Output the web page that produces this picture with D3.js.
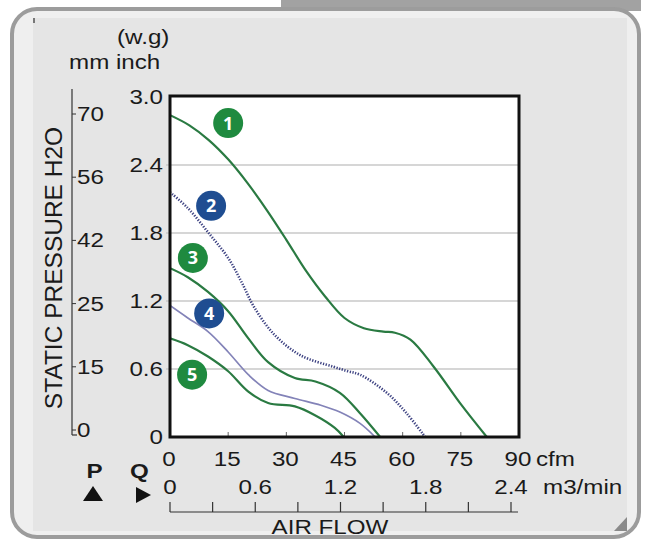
<!DOCTYPE html>
<html><head><meta charset="utf-8">
<script src="https://cdn.jsdelivr.net/npm/d3@7"></script>
<style>
html,body{margin:0;padding:0;background:#fff;}
svg{display:block;}
</style>
</head><body>
<svg id="c" width="647" height="541"></svg>
<script>
// ---- data ----
const cfmTicks = [0, 15, 30, 45, 60, 75, 90];
const m3Ticks = [0, 0.6, 1.2, 1.8, 2.4];
const m3MinorTicks = [0, 0.3, 0.6, 0.9, 1.2, 1.5, 1.8, 2.1, 2.4];
const inchTicks = [0, 0.6, 1.2, 1.8, 2.4, 3.0];
const mmTicks = [70, 56, 42, 25, 15, 0];
const curveIds = ["1", "2", "3", "4", "5"];
const curve1 = [[0,2.84],[5,2.75],[10,2.62],[15,2.45],[20,2.24],[25,2.00],[30,1.74],[35,1.47],[40,1.24],[45,1.05],[50,0.96],[55,0.93],[58,0.92],[62,0.86],[68,0.62],[75,0.29],[81.7,0]];
const curve2 = [[0,2.16],[4.6,2.02],[10.2,1.79],[15,1.58],[18.4,1.37],[21.8,1.14],[27,0.90],[33.7,0.72],[42.1,0.62],[45.9,0.58],[49,0.55],[55.9,0.39],[61,0.21],[65.8,0]];
const curve3 = [[0,1.49],[4.6,1.41],[9.8,1.28],[15,1.11],[20.2,0.87],[25.3,0.66],[32.2,0.52],[37.5,0.49],[43.8,0.39],[49,0.21],[54.2,0]];
const curve4 = [[0,1.16],[4.6,1.05],[9.8,0.93],[15,0.75],[20.2,0.55],[25.3,0.41],[32.2,0.34],[38.9,0.28],[43.8,0.22],[49,0.12],[52.9,0]];
const curve5 = [[0,0.87],[4.6,0.81],[9.8,0.71],[15,0.58],[20.2,0.40],[25.3,0.30],[32.2,0.27],[37.5,0.19],[42.5,0.08],[44.8,0]];
const badgeAt = [[15.0,2.77],[10.6,2.04],[5.9,1.58],[10.1,1.09],[5.7,0.55]];
const curveKinds = ["green","dotted","green","thin","green"];

// ---- setup ----
const svg = d3.select("#c");
const FONT = "'Liberation Sans', Arial, sans-serif";
const SX = 1.24, FS = 19.5, TXT = "#1a1a1a";
function htext(x, y, s, anchor, opts) {
  opts = opts || {};
  return svg.append("text")
    .attr("transform", `translate(${x},${y}) scale(${opts.sx || SX},1)`)
    .attr("text-anchor", anchor || "start")
    .attr("font-family", FONT)
    .attr("font-size", opts.fs || FS)
    .attr("font-weight", opts.bold ? "bold" : "normal")
    .attr("fill", TXT)
    .text(s);
}

// frame
svg.append("rect").attr("x", 281).attr("y", 0).attr("width", 360).attr("height", 11).attr("fill", "#a2a2a2");
svg.append("rect").attr("x", 12).attr("y", 9).attr("width", 627).attr("height", 528).attr("rx", 25)
  .attr("fill", "#efefef").attr("stroke", "#9c9c9c").attr("stroke-width", 4);
svg.append("rect").attr("x", 33).attr("y", 18).attr("width", 594).attr("height", 513).attr("fill", "#e5e5e5");
svg.append("path").attr("d", "M627,517 L627,531 L614,531 Z").attr("fill", "#8a8a8a");
svg.append("rect").attr("x", 33).attr("y", 18).attr("width", 2).attr("height", 5).attr("fill", "#777");

// scales
const x = d3.scaleLinear().domain([0, 90]).range([170, 519]);
const y = d3.scaleLinear().domain([0, 3]).range([437, 97]);
const xm = d3.scaleLinear().domain([0, 2.4]).range([170, 511]);
const ymm = d3.scalePoint().domain(mmTicks).range([114, 430]);

// plot area
svg.append("rect").attr("x", x(0)).attr("y", y(3)).attr("width", x(90) - x(0)).attr("height", y(0) - y(3)).attr("fill", "#fff");
svg.append("g").selectAll("line").data(inchTicks.filter(d => d > 0 && d < 3)).join("line")
  .attr("x1", x(0) - 4).attr("x2", x(90)).attr("y1", d => y(d)).attr("y2", d => y(d))
  .attr("stroke", "#c9c9c9").attr("stroke-width", 1.6);
svg.append("g").selectAll("line").data(cfmTicks.filter(d => d > 0 && d < 90)).join("line")
  .attr("x1", d => x(d)).attr("x2", d => x(d)).attr("y1", y(0)).attr("y2", y(0) - 5)
  .attr("stroke", "#666").attr("stroke-width", 1);

// clip
svg.append("clipPath").attr("id", "clip").append("rect")
  .attr("x", x(0)).attr("y", y(3)).attr("width", x(90) - x(0)).attr("height", y(0) - y(3));

const line = d3.line().x(d => x(d[0])).y(d => y(d[1])).curve(d3.curveCatmullRom.alpha(0.5));
const curves = [curve1, curve2, curve3, curve4, curve5];
const gC = svg.append("g").attr("clip-path", "url(#clip)");
curves.forEach((c, i) => {
  const k = curveKinds[i];
  const p = gC.append("path").attr("d", line(c)).attr("fill", "none");
  if (k === "green") p.attr("stroke", "#2a7a42").attr("stroke-width", 2.2);
  else if (k === "dotted") p.attr("stroke", "#3d4282").attr("stroke-width", 2.6).attr("stroke-dasharray", "1.3 1.5");
  else p.attr("stroke", "#8383b8").attr("stroke-width", 1.7);
});

// box border
svg.append("rect").attr("x", x(0)).attr("y", y(3) - 1).attr("width", x(90) - x(0)).attr("height", y(0) - y(3) + 1)
  .attr("fill", "none").attr("stroke", "#111").attr("stroke-width", 3);

// badges
const gB = svg.append("g");
badgeAt.forEach((b, i) => {
  const col = curveKinds[i] === "green" ? "#1f8a3f" : "#1f4d91";
  gB.append("circle").attr("cx", x(b[0])).attr("cy", y(b[1])).attr("r", 15).attr("fill", col);
  gB.append("text").attr("x", x(b[0])).attr("y", y(b[1]) + 6.5).attr("text-anchor", "middle")
    .attr("font-family", "'Open Sans', 'DejaVu Sans', sans-serif").attr("font-weight", "bold")
    .attr("font-size", 18).attr("fill", "#fff").text(curveIds[i]);
});

// inch labels
inchTicks.forEach(v => htext(163, y(v) + 7, v === 0 ? "0" : v.toFixed(1), "end"));
htext(117, 44, "(w.g)", "start");
htext(69, 69, "mm inch", "start");

// mm axis
svg.append("line").attr("x1", 72).attr("x2", 72).attr("y1", 89).attr("y2", 435).attr("stroke", "#333").attr("stroke-width", 1.2);
svg.append("line").attr("x1", 72).attr("x2", 77).attr("y1", 435).attr("y2", 435).attr("stroke", "#333").attr("stroke-width", 1.2);
mmTicks.forEach(v => {
  svg.append("line").attr("x1", 72).attr("x2", 76).attr("y1", ymm(v)).attr("y2", ymm(v)).attr("stroke", "#333").attr("stroke-width", 1);
  htext(77, ymm(v) + 7, String(v), "start");
});
svg.append("text").attr("transform", "translate(62,268) rotate(-90)").attr("text-anchor", "middle")
  .attr("font-family", FONT).attr("font-size", 24.5).attr("fill", TXT).text("STATIC PRESSURE H2O");

// bottom labels
cfmTicks.forEach(v => htext(x(v) - 1, 466, String(v), "middle"));
htext(536, 466, "cfm", "start");
m3Ticks.forEach(v => htext(xm(v), 494, v === 0 ? "0" : v.toFixed(1), "middle"));
htext(543, 494, "m3/min", "start");
svg.append("line").attr("x1", xm(0)).attr("x2", 518).attr("y1", 512).attr("y2", 512).attr("stroke", "#333").attr("stroke-width", 1.2);
svg.append("g").selectAll("line").data(m3MinorTicks).join("line")
  .attr("x1", d => xm(d)).attr("x2", d => xm(d)).attr("y1", 502).attr("y2", 512).attr("stroke", "#333").attr("stroke-width", 1.2);
htext(330, 534, "AIR FLOW", "middle");

// P / Q
htext(94.5, 478, "P", "middle", {bold: true});
htext(139.5, 478, "Q", "middle", {bold: true});
svg.append("path").attr("d", "M93,486 L103,501 L83,501 Z").attr("fill", "#111");
svg.append("path").attr("d", "M136,487 L151,495 L136,503 Z").attr("fill", "#111");
</script>
</body></html>
